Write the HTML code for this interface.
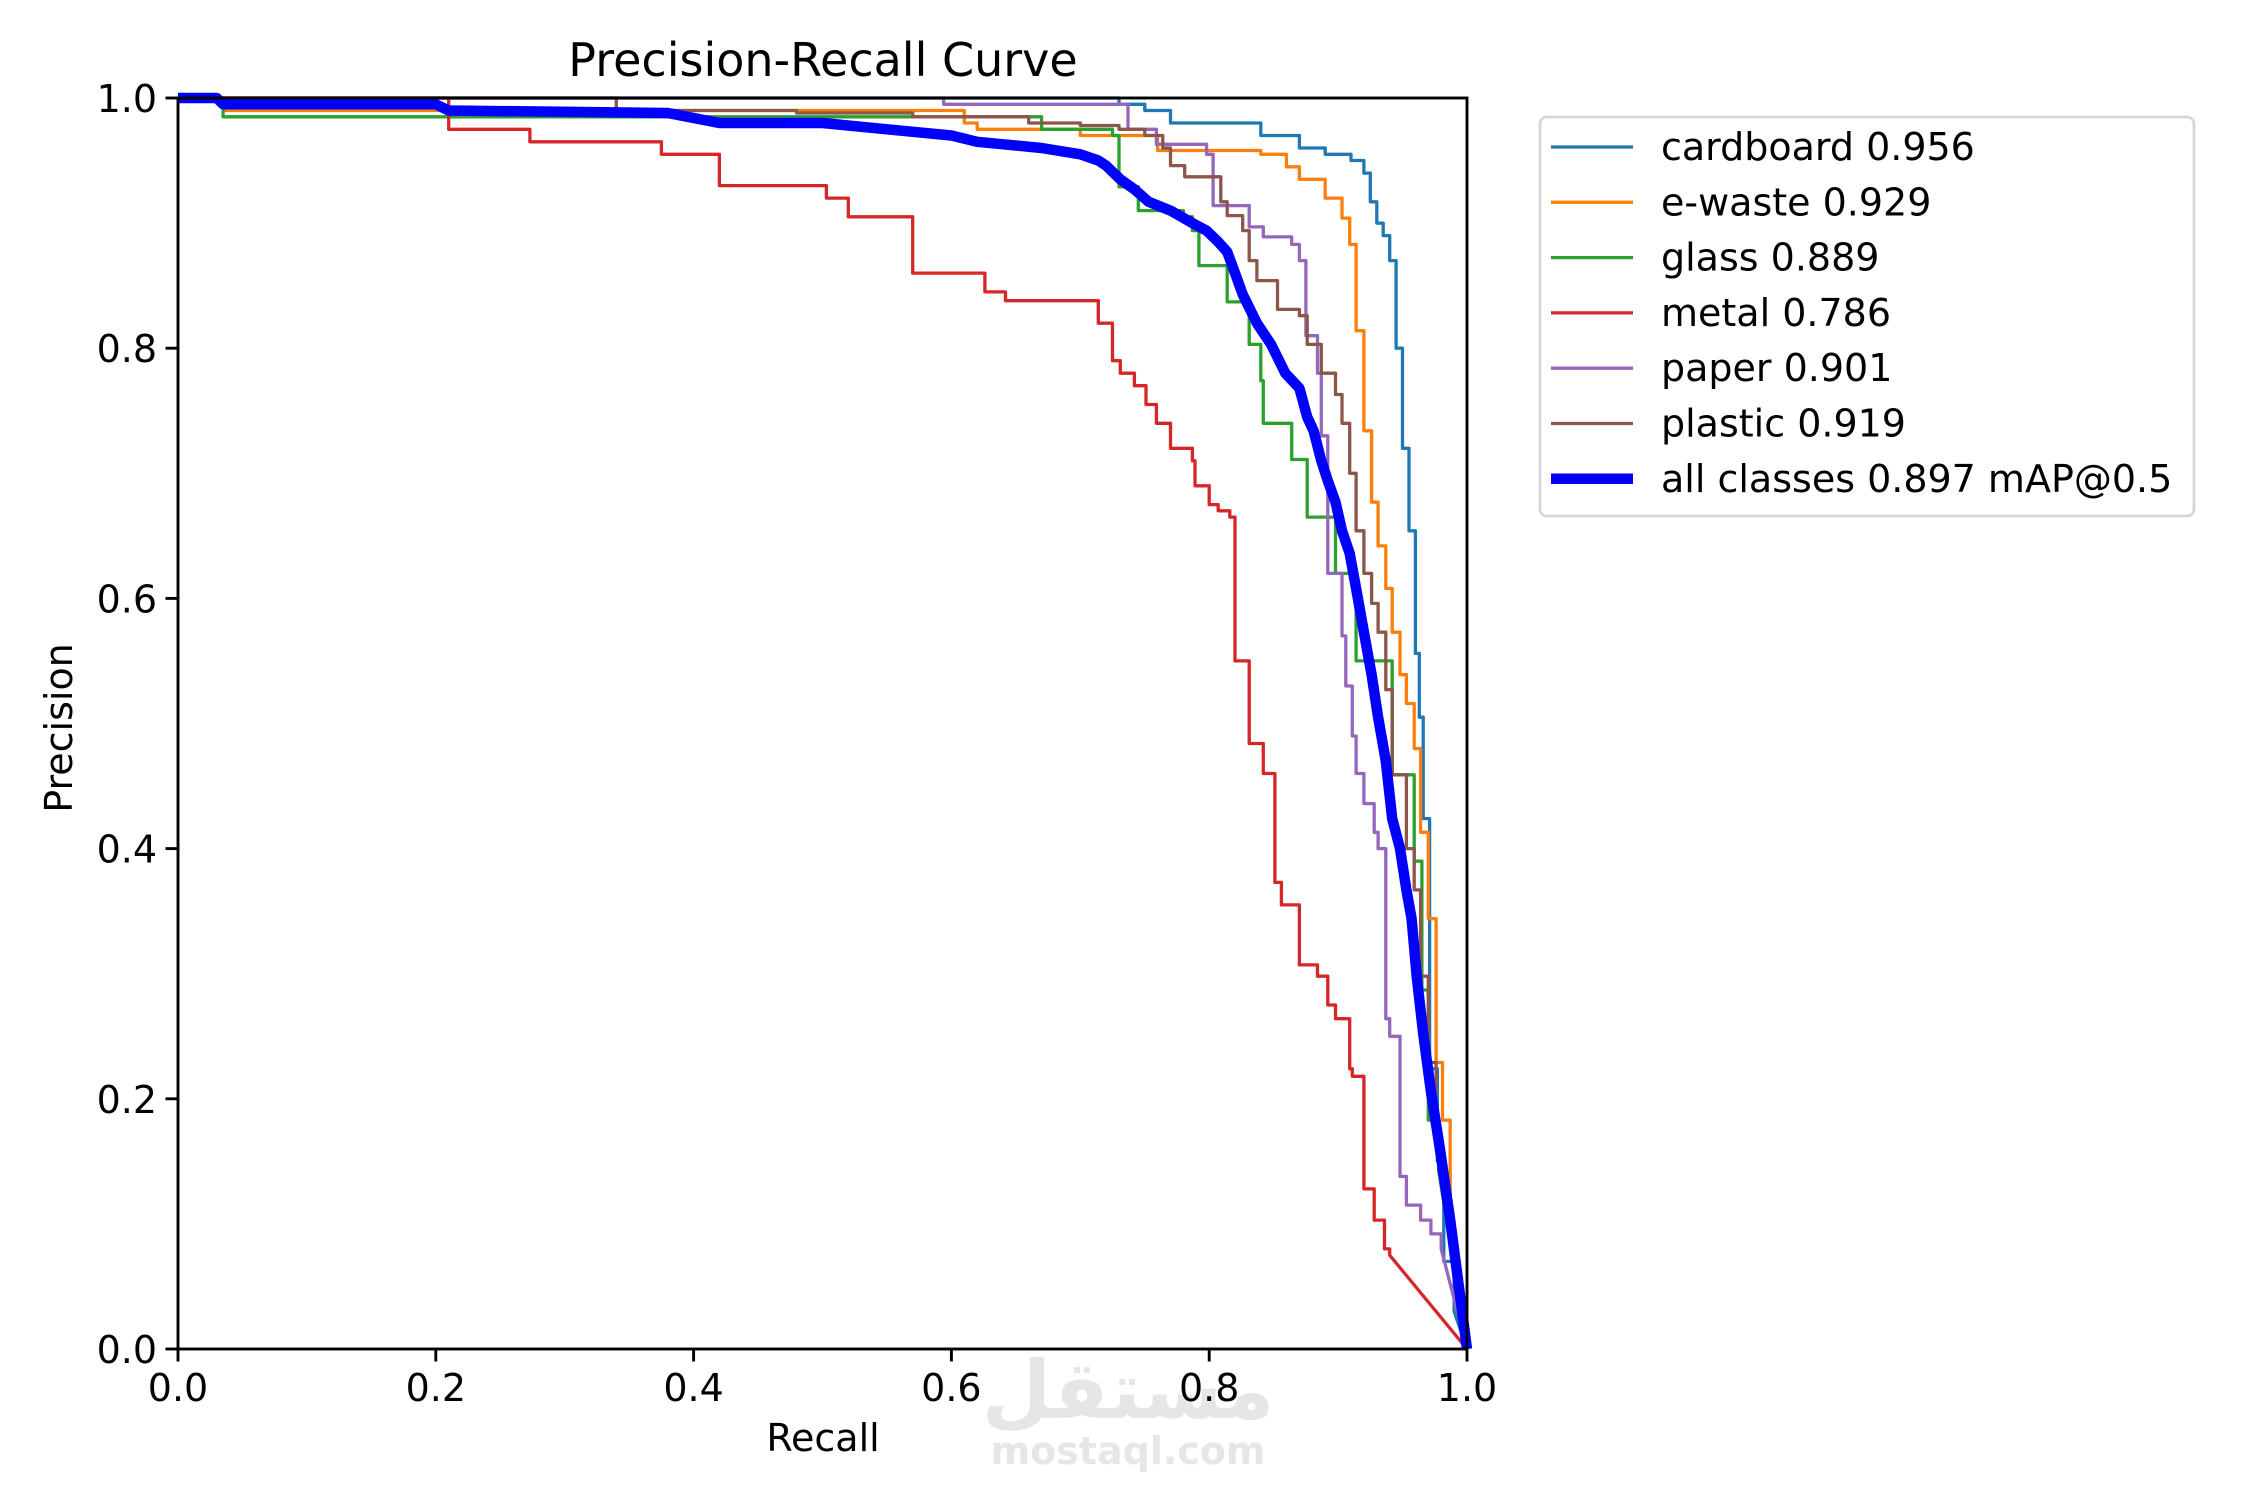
<!DOCTYPE html>
<html><head><meta charset="utf-8"><style>
html,body{margin:0;padding:0;background:#fff;}
svg{display:block;font-family:"DejaVu Sans","Liberation Sans",sans-serif;}
</style></head><body>
<svg id="chart" xmlns="http://www.w3.org/2000/svg" width="2250" height="1500" viewBox="0 0 2250 1500">
<rect x="0" y="0" width="2250" height="1500" fill="#fff"/>
<text x="1128" y="1418" font-size="80" font-weight="bold" fill="#e6e6e6" text-anchor="middle">مستقل</text>
<text x="1128" y="1464" font-size="38" font-weight="bold" fill="#e6e6e6" text-anchor="middle">mostaql.com</text>
<g id="plot"></g>
<text x="823" y="76" font-size="46" text-anchor="middle">Precision-Recall Curve</text>
<text x="823" y="1451" font-size="38" text-anchor="middle">Recall</text>
<text x="0" y="0" font-size="38" text-anchor="middle" transform="translate(72,728) rotate(-90)">Precision</text>
<g id="legend"></g>
</svg>
<script>
const classNames = ["cardboard 0.956","e-waste 0.929","glass 0.889","metal 0.786","paper 0.901","plastic 0.919","all classes 0.897 mAP@0.5"];
const colors = ["#1f77b4","#ff7f0e","#2ca02c","#d62728","#9467bd","#8c564b","#0000ff"];
const tickValues = [0,0.2,0.4,0.6,0.8,1.0];
const tickLabels = ["0.0","0.2","0.4","0.6","0.8","1.0"];

const recallCardboard = [0,0.73,0.73,0.75,0.77,0.83,0.84,0.87,0.89,0.91,0.92,0.925,0.93,0.935,0.94,0.945,0.95,0.955,0.96,0.963,0.966,0.971,0.977,0.982,0.99,1.0];
const precCardboard =   [1,1,0.995,0.99,0.98,0.98,0.97,0.96,0.955,0.95,0.94,0.917,0.90,0.89,0.87,0.80,0.72,0.654,0.556,0.505,0.424,0.224,0.15,0.07,0.03,0];

const recallEwaste = [0,0.03,0.035,0.58,0.61,0.62,0.68,0.7,0.75,0.76,0.83,0.84,0.86,0.87,0.89,0.903,0.909,0.914,0.92,0.926,0.931,0.937,0.942,0.948,0.953,0.959,0.964,0.97,0.976,0.981,0.987,1.0];
const precEwaste =   [1,1,0.99,0.99,0.98,0.975,0.975,0.97,0.97,0.958,0.958,0.955,0.945,0.935,0.92,0.904,0.883,0.814,0.734,0.677,0.642,0.608,0.573,0.539,0.516,0.48,0.413,0.344,0.229,0.183,0.103,0];

const recallGlass = [0,0.03,0.035,0.6,0.67,0.725,0.73,0.745,0.78,0.787,0.792,0.814,0.831,0.84,0.842,0.864,0.876,0.898,0.914,0.942,0.959,0.965,0.97,0.978,1.0];
const precGlass =   [1,1,0.985,0.985,0.975,0.97,0.929,0.91,0.905,0.894,0.866,0.837,0.803,0.774,0.74,0.711,0.665,0.62,0.55,0.459,0.39,0.287,0.183,0.143,0];

const recallMetal = [0,0.21,0.21,0.273,0.375,0.42,0.503,0.52,0.57,0.626,0.642,0.714,0.725,0.731,0.742,0.751,0.759,0.77,0.787,0.789,0.8,0.807,0.816,0.82,0.831,0.842,0.851,0.856,0.87,0.884,0.892,0.898,0.909,0.911,0.92,0.928,0.936,0.94,1.0];
const precMetal =   [1,1,0.975,0.965,0.955,0.93,0.92,0.905,0.86,0.845,0.838,0.82,0.79,0.78,0.77,0.755,0.74,0.72,0.71,0.69,0.675,0.67,0.665,0.55,0.484,0.46,0.373,0.355,0.307,0.298,0.275,0.264,0.224,0.218,0.128,0.103,0.08,0.075,0];

const recallPaper = [0,0.594,0.594,0.714,0.737,0.759,0.798,0.803,0.831,0.842,0.864,0.87,0.875,0.884,0.887,0.892,0.903,0.906,0.911,0.914,0.92,0.928,0.931,0.937,0.94,0.948,0.953,0.964,0.972,0.98,1.0];
const precPaper =   [1,1,0.995,0.995,0.975,0.963,0.955,0.914,0.897,0.889,0.883,0.87,0.81,0.78,0.73,0.62,0.57,0.53,0.49,0.46,0.436,0.413,0.40,0.264,0.25,0.138,0.115,0.103,0.092,0.08,0];

const recallPlastic = [0,0.34,0.34,0.48,0.57,0.66,0.7,0.73,0.75,0.764,0.77,0.781,0.803,0.809,0.814,0.826,0.831,0.837,0.853,0.87,0.876,0.887,0.898,0.903,0.909,0.914,0.92,0.926,0.931,0.937,0.942,0.953,0.959,0.964,0.97,0.976,0.981,1.0];
const precPlastic =   [1,1,0.99,0.988,0.985,0.98,0.978,0.975,0.97,0.96,0.946,0.937,0.937,0.917,0.906,0.894,0.87,0.854,0.831,0.826,0.803,0.78,0.763,0.74,0.70,0.654,0.62,0.596,0.573,0.527,0.459,0.40,0.367,0.298,0.229,0.16,0.137,0];

const recallAll = [0,0.03,0.035,0.2,0.21,0.38,0.42,0.5,0.55,0.6,0.62,0.67,0.7,0.714,0.72,0.731,0.742,0.753,0.77,0.787,0.798,0.807,0.814,0.82,0.826,0.837,0.848,0.859,0.87,0.876,0.881,0.887,0.892,0.898,0.903,0.909,0.914,0.92,0.926,0.931,0.937,0.942,0.948,0.953,0.957,0.961,0.966,0.972,0.979,0.987,1.0];
const precAll =   [1,1,0.995,0.995,0.99,0.988,0.98,0.98,0.975,0.97,0.965,0.96,0.955,0.95,0.946,0.935,0.927,0.917,0.91,0.90,0.894,0.885,0.877,0.86,0.843,0.82,0.803,0.78,0.768,0.745,0.734,0.71,0.694,0.677,0.654,0.636,0.608,0.573,0.539,0.505,0.47,0.424,0.40,0.367,0.344,0.298,0.252,0.206,0.16,0.103,0];

const recallSeries = [recallCardboard,recallEwaste,recallGlass,recallMetal,recallPaper,recallPlastic,recallAll];
const precSeries = [precCardboard,precEwaste,precGlass,precMetal,precPaper,precPlastic,precAll];
const seriesNames = ["cardboard","e-waste","glass","metal","paper","plastic","all-classes"];

const NS = "http://www.w3.org/2000/svg";
const L = 178, R = 1467, T = 98, B = 1349;
function xs(v){ return L + v*(R-L); }
function ys(v){ return B - v*(B-T); }
function mk(tag, attrs, parent){ const e=document.createElementNS(NS,tag); for(const k in attrs) e.setAttribute(k,attrs[k]); parent.appendChild(e); return e; }

const plot = document.getElementById('plot');
for(let s=0;s<recallSeries.length;s++){
  const r = recallSeries[s], p = precSeries[s], n = r.length;
  const stepped = s !== 6;
  const pts = [];
  for(let i=0;i<n;i++){
    if(stepped && i>0 && i<n-1){ pts.push(xs(r[i]).toFixed(1)+","+ys(p[i-1]).toFixed(1)); }
    pts.push(xs(r[i]).toFixed(1)+","+ys(p[i]).toFixed(1));
  }
  const pl = mk('polyline',{points:pts.join(" "),fill:'none',stroke:colors[s],'stroke-width':s===6?10.5:3.3,'stroke-linejoin':'round'},plot);
  
  
}
const frame = mk('rect',{x:L,y:T,width:R-L,height:B-T,fill:'none',stroke:'#000','stroke-width':2.9},plot);


for(let i=0;i<tickValues.length;i++){
  const tx = mk('line',{x1:xs(tickValues[i]),x2:xs(tickValues[i]),y1:B,y2:B+12.5,stroke:'#000','stroke-width':2.9},plot);
  
  
  const lx = mk('text',{x:xs(tickValues[i]),y:B+52,'font-size':38,'text-anchor':'middle'},plot);
  lx.textContent = tickLabels[i];
  
  
  const ty = mk('line',{x1:L-12.5,x2:L,y1:ys(tickValues[i]),y2:ys(tickValues[i]),stroke:'#000','stroke-width':2.9},plot);
  
  
  const ly = mk('text',{x:L-21,y:ys(tickValues[i])+14,'font-size':38,'text-anchor':'end'},plot);
  ly.textContent = tickLabels[i];
  
  
}
const leg = document.getElementById('legend');
const box = mk('rect',{x:1540,y:117,width:654,height:399,rx:7,fill:'#fff',stroke:'#d6d6d6','stroke-width':2.8},leg);


for(let i=0;i<classNames.length;i++){
  const y = 147 + i*55.3;
  const ln = mk('line',{x1:1551,x2:1633,y1:y,y2:y,stroke:colors[i],'stroke-width':i===6?10.5:3.3},leg);
  
  
  const t = mk('text',{x:1661,y:y+13,'font-size':38},leg);
  t.textContent = classNames[i];
  
  
}
</script>
</body></html>
